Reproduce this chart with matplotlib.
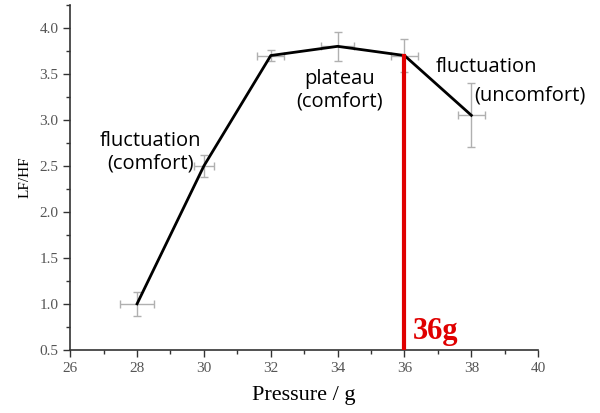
import matplotlib.pyplot as plt

# data
pressure = [28, 30, 32, 34, 36, 38]
lf_hf = [1.0, 2.5, 3.7, 3.8, 3.7, 3.05]
y_err = [0.13, 0.12, 0.06, 0.16, 0.18, 0.35]
x_err = [0.5, 0.3, 0.4, 0.5, 0.4, 0.4]
x_ticks = [26, 28, 30, 32, 34, 36, 38, 40]
y_ticks = [0.5, 1.0, 1.5, 2.0, 2.5, 3.0, 3.5, 4.0]
threshold = 36
threshold_value = 3.7

fig = plt.figure(figsize=(6, 4.13), dpi=100)
ax = fig.add_axes([0.117, 0.153, 0.78, 0.835])

ax.errorbar(pressure, lf_hf, yerr=y_err, xerr=x_err, fmt='none',
            ecolor='#b0b0b0', elinewidth=1, capsize=3, capthick=1, zorder=1)
ax.plot(pressure, lf_hf, color='black', lw=2, zorder=2)

# comfort threshold
ax.plot([threshold, threshold], [0.5, threshold_value], color='#e00000', lw=3, zorder=3)
ax.text(36.25, 0.54, '36g', color='#e00000', fontsize=22, fontweight='bold',
        family='Liberation Serif', ha='left', va='bottom')

ax.text(28.4, 2.65, 'fluctuation\n(comfort)', fontsize=14.5, family='Open Sans',
        ha='center', va='center', linespacing=1.15)
ax.text(34.05, 3.32, 'plateau\n(comfort)', fontsize=14.5, family='Open Sans',
        ha='center', va='center', linespacing=1.15)
ax.text(36.95, 3.58, 'fluctuation', fontsize=14.5, family='Open Sans',
        ha='left', va='center')
ax.text(38.1, 3.27, '(uncomfort)', fontsize=14.5, family='Open Sans',
        ha='left', va='center')

ax.set_xlim(26, 40)
ax.set_ylim(0.5, 4.25)
ax.set_xticks(x_ticks)
ax.set_yticks(y_ticks)
ax.set_xticks([27, 29, 31, 33, 35, 37, 39], minor=True)
ax.set_yticks([0.75, 1.25, 1.75, 2.25, 2.75, 3.25, 3.75, 4.25], minor=True)
ax.set_yticklabels(['%.1f' % v for v in y_ticks])

for s in ['top', 'right']:
    ax.spines[s].set_visible(False)
for s in ['left', 'bottom']:
    ax.spines[s].set_color('#333333')
    ax.spines[s].set_linewidth(1.2)
ax.tick_params(which='major', direction='out', length=5, width=1, color='#333333',
               labelsize=11, labelcolor='#555555')
ax.tick_params(which='minor', direction='out', length=3, width=1, color='#333333')
for lab in ax.get_xticklabels() + ax.get_yticklabels():
    lab.set_family('Liberation Serif')

ax.set_xlabel('Pressure / g', fontsize=16, family='Liberation Serif', labelpad=8)
ax.set_ylabel('LF/HF', fontsize=11, family='Liberation Serif', labelpad=6)

fig.savefig('out.png', dpi=100)
